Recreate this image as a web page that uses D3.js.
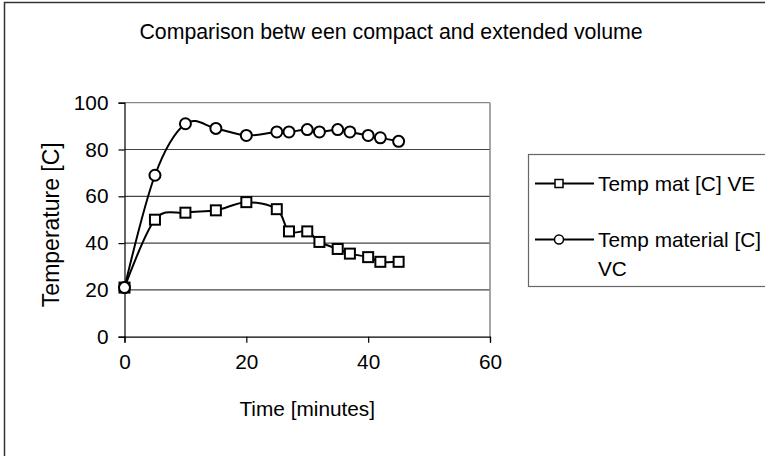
<!DOCTYPE html>
<html>
<head>
<meta charset="utf-8">
<script src="https://cdn.jsdelivr.net/npm/d3@7"></script>
<style>
  html, body { margin: 0; padding: 0; background: #fff; }
  svg { display: block; font-family: Arial, "Liberation Sans", sans-serif; }
</style>
</head>
<body>
<svg id="chart" width="765" height="456"></svg>
<script>
// Sampling times (minutes)
const times = [0, 5, 10, 15, 20, 25, 27, 30, 32, 35, 37, 40, 42, 45];
// Extended volume (squares)
const tempVE = [21, 50, 53, 54, 57.5, 54.5, 45, 45, 40.5, 37.5, 35.5, 34, 32, 32];
// Compact volume (circles)
const tempVC = [21, 69, 91, 89, 86, 87.5, 87.5, 88.5, 87.5, 88.5, 87.5, 86, 85, 83.5];
const seriesNames = ["Temp mat [C] VE", "Temp material [C] VC"];
const xTicks = [0, 20, 40, 60];
const yTicks = [0, 20, 40, 60, 80, 100];

const svg = d3.select("#chart");
const fontSize = 20.8;

// Outer chart frame
svg.append("rect")
  .attr("x", 4.5).attr("y", 2.5).attr("width", 800).attr("height", 500)
  .attr("fill", "#fff").attr("stroke", "#333").attr("stroke-width", 1.5);

const plot = { left: 124.5, right: 490, top: 102.7, bottom: 336.7 };
const x = d3.scaleLinear().domain([0, 60]).range([plot.left, plot.right]);
const y = d3.scaleLinear().domain([0, 100]).range([plot.bottom, plot.top]);

// Horizontal gridlines
svg.append("g").selectAll("line")
  .data(yTicks.filter(t => t > 0))
  .join("line")
  .attr("x1", plot.left).attr("x2", plot.right)
  .attr("y1", d => y(d)).attr("y2", d => y(d))
  .attr("stroke", d => d === 100 ? "#888" : "#444").attr("stroke-width", 1.2);

// Right edge of plot area
svg.append("line")
  .attr("x1", plot.right).attr("x2", plot.right)
  .attr("y1", plot.top).attr("y2", plot.bottom)
  .attr("stroke", "#888").attr("stroke-width", 1.5);

// Axes
const yAxis = d3.axisLeft(y).tickValues(yTicks).tickSize(6).tickPadding(10);
const xAxis = d3.axisBottom(x).tickValues(xTicks).tickSize(6).tickPadding(12);

const gy = svg.append("g").attr("transform", `translate(${plot.left},0)`).call(yAxis);
const gx = svg.append("g").attr("transform", `translate(0,${plot.bottom})`).call(xAxis);
[gx, gy].forEach(g => {
  g.select(".domain").attr("stroke", "#000").attr("stroke-width", 1.2);
  g.selectAll(".tick line").attr("stroke", "#000").attr("stroke-width", 1.2);
  g.selectAll(".tick text").attr("fill", "#000")
    .style("font-size", fontSize + "px").style("font-family", "Arial, 'Liberation Sans', sans-serif");
});

// Smoothed series lines
const line = d3.line()
  .x(d => x(d[0])).y(d => y(d[1]))
  .curve(d3.curveCatmullRom.alpha(0));

const ve = times.map((t, i) => [t, tempVE[i]]);
const vc = times.map((t, i) => [t, tempVC[i]]);

svg.append("path").datum(ve).attr("d", line)
  .attr("fill", "none").attr("stroke", "#000").attr("stroke-width", 2);
svg.append("path").datum(vc).attr("d", line)
  .attr("fill", "none").attr("stroke", "#000").attr("stroke-width", 2);

// Markers
const sq = 10;
svg.append("g").selectAll("rect").data(ve).join("rect")
  .attr("x", d => x(d[0]) - sq / 2).attr("y", d => y(d[1]) - sq / 2)
  .attr("width", sq).attr("height", sq)
  .attr("fill", "#fff").attr("stroke", "#000").attr("stroke-width", 2);
svg.append("g").selectAll("circle").data(vc).join("circle")
  .attr("cx", d => x(d[0])).attr("cy", d => y(d[1])).attr("r", 5.5)
  .attr("fill", "#fff").attr("stroke", "#000").attr("stroke-width", 2);

// Title and axis titles
svg.append("text")
  .attr("x", 391).attr("y", 39).attr("text-anchor", "middle")
  .style("font-size", "21.3px")
  .text("Comparison betw een compact and extended volume");

svg.append("text")
  .attr("x", (plot.left + plot.right) / 2).attr("y", 416).attr("text-anchor", "middle")
  .style("font-size", fontSize + "px")
  .text("Time [minutes]");

svg.append("text")
  .attr("transform", `translate(59,${(plot.top + plot.bottom) / 2 + 5}) rotate(-90)`)
  .attr("text-anchor", "middle")
  .style("font-size", "23px")
  .text("Temperature [C]");

// Legend
const legend = svg.append("g");
legend.append("rect")
  .attr("x", 528.5).attr("y", 154.5).attr("width", 300).attr("height", 132)
  .attr("fill", "#fff").attr("stroke", "#666").attr("stroke-width", 1.2);

const legendRows = [
  { name: seriesNames[0], shape: "square", y: 183.5, lines: ["Temp mat [C] VE"] },
  { name: seriesNames[1], shape: "circle", y: 239.5, lines: ["Temp material [C]", "VC"] }
];
legendRows.forEach(r => {
  legend.append("line")
    .attr("x1", 535).attr("x2", 594).attr("y1", r.y).attr("y2", r.y)
    .attr("stroke", "#000").attr("stroke-width", 2);
  if (r.shape === "square") {
    legend.append("rect")
      .attr("x", 559 - 4).attr("y", r.y - 4).attr("width", 8).attr("height", 8)
      .attr("fill", "#fff").attr("stroke", "#000").attr("stroke-width", 1.5);
  } else {
    legend.append("circle")
      .attr("cx", 559).attr("cy", r.y).attr("r", 4.5)
      .attr("fill", "#fff").attr("stroke", "#000").attr("stroke-width", 1.5);
  }
  const t = legend.append("text")
    .attr("x", 598).attr("y", r.y + 7)
    .style("font-size", fontSize + "px");
  r.lines.forEach((s, i) => {
    t.append("tspan").attr("x", 598).attr("dy", i === 0 ? 0 : 29).text(s);
  });
});
</script>
</body>
</html>
